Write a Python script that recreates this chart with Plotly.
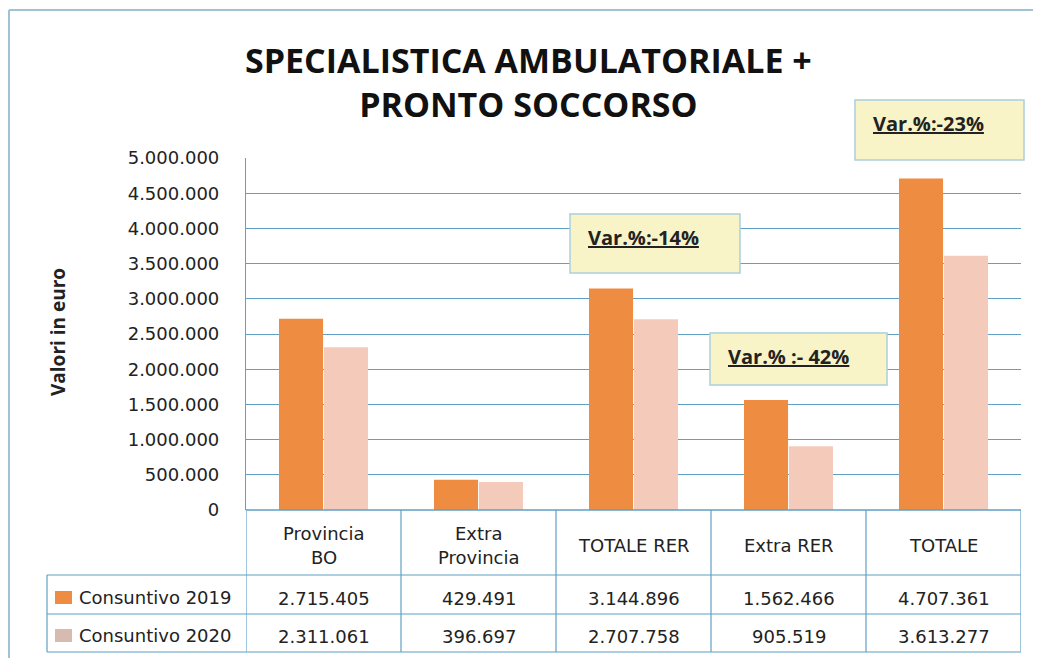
import plotly.graph_objects as go

# data
categories = ["Provincia BO", "Extra Provincia", "TOTALE RER", "Extra RER", "TOTALE"]
header_labels = [["Provincia", "BO"], ["Extra", "Provincia"], ["TOTALE RER"], ["Extra RER"], ["TOTALE"]]
series_names = ["Consuntivo 2019", "Consuntivo 2020"]
cons_2019 = [2715405, 429491, 3144896, 1562466, 4707361]
cons_2020 = [2311061, 396697, 2707758, 905519, 3613277]
var_labels = ["Var.%:-14%", "Var.% :- 42%", "Var.%:-23%"]
title_lines = ["SPECIALISTICA AMBULATORIALE +", "PRONTO SOCCORSO"]

# page has an 8px body margin, so the figure is 1025x650 placed at (8, 8)
OFF = 8
W, H = 1041 - 2 * OFF, 666 - 2 * OFF
ORANGE = "#ee8c42"
PINK = "#f4cbba"
BLUE = "#5fa0c4"
BOXBLUE = "#a9d0dd"


def px(x):
    return (x - OFF) / W


def py(y):
    return 1 - (y - OFF) / H


def fmt(v):
    return f"{v:,}".replace(",", ".")


fig = go.Figure()
fig.add_trace(go.Bar(x=categories, y=cons_2019, name=series_names[0],
                     marker=dict(color=ORANGE, line=dict(width=0))))
fig.add_trace(go.Bar(x=categories, y=cons_2020, name=series_names[1],
                     marker=dict(color=PINK, line=dict(width=0))))

shapes = []
ann = []

# outer frame (only top and left edges are inside the picture)
frame = dict(color="#9fc3d3", width=2)
shapes.append(dict(type="line", xref="paper", yref="paper", x0=px(9), x1=px(1045),
                   y0=py(10), y1=py(10), line=frame))
shapes.append(dict(type="line", xref="paper", yref="paper", x0=px(9), x1=px(9),
                   y0=py(10), y1=py(670), line=frame))

# table grid
tab_font = dict(family="DejaVu Sans", size=18, color="#222")
row_lines = [575, 614, 652]
shapes.append(dict(type="line", xref="x", yref="paper", x0=-0.5, x1=4.5,
                   y0=py(510), y1=py(510), line=dict(color=BLUE, width=1.5)))
for yy in row_lines:
    shapes.append(dict(type="line", xref="paper", yref="paper", x0=px(47), x1=px(1021),
                       y0=py(yy), y1=py(yy), line=dict(color=BLUE, width=1.2)))
shapes.append(dict(type="line", xref="paper", yref="paper", x0=px(47), x1=px(47),
                   y0=py(575), y1=py(652), line=dict(color=BLUE, width=1.2)))
for i in range(len(categories) + 1):
    shapes.append(dict(type="line", xref="x", yref="paper", x0=i - 0.5, x1=i - 0.5,
                       y0=py(652), y1=py(510), line=dict(color=BLUE, width=1.2)))

for i, lines in enumerate(header_labels):
    ys = [545] if len(lines) == 1 else [533, 557]
    for lab, yy in zip(lines, ys):
        ann.append(dict(x=categories[i], xref="x", y=py(yy), yref="paper", text=lab,
                        xanchor="center", yanchor="middle", showarrow=False, font=tab_font))
    ann.append(dict(x=categories[i], xref="x", y=py(598), yref="paper", text=fmt(cons_2019[i]),
                    xanchor="center", yanchor="middle", showarrow=False, font=tab_font))
    ann.append(dict(x=categories[i], xref="x", y=py(636), yref="paper", text=fmt(cons_2020[i]),
                    xanchor="center", yanchor="middle", showarrow=False, font=tab_font))

# legend column
for yy, name, col in [(597, series_names[0], ORANGE), (635, series_names[1], "#d9bab0")]:
    shapes.append(dict(type="rect", xref="paper", yref="paper", x0=px(55), x1=px(72),
                       y0=py(yy + 7), y1=py(yy - 6), fillcolor=col, line=dict(width=0)))
    ann.append(dict(x=px(77), xref="paper", y=py(yy), yref="paper", text=name,
                    xanchor="left", yanchor="middle", showarrow=False, font=tab_font))

# variation boxes
boxes = [(570, 214, 740, 273), (710, 333, 887, 385), (855, 100, 1024, 160)]
for (x0, y0, x1, y1), lab in zip(boxes, var_labels):
    shapes.append(dict(type="rect", xref="paper", yref="paper", x0=px(x0), x1=px(x1),
                       y0=py(y1), y1=py(y0), fillcolor="#f8f4c8",
                       line=dict(color=BOXBLUE, width=1.5), layer="above"))
    ann.append(dict(x=px(x0 + 16), xref="paper", y=py(y0 + 23), yref="paper",
                    xanchor="left", yanchor="middle", text="<b><u>" + lab + "</u></b>",
                    showarrow=False,
                    font=dict(family="Open Sans", size=20, color="#222")))

# title
ann.append(dict(x=px(528), xref="paper", y=py(82), yref="paper",
                text="<br>".join("<b>" + t + "</b>" for t in title_lines),
                xanchor="center", yanchor="middle", showarrow=False,
                font=dict(family="Open Sans", size=34, color="#111")))

# y axis title
ann.append(dict(x=px(58), xref="paper", y=py(332), yref="paper", text="<b>Valori in euro</b>",
                textangle=-90, xanchor="center", yanchor="middle", showarrow=False,
                font=dict(family="Open Sans", size=19, color="#222")))

fig.update_layout(
    width=W, height=H,
    margin=dict(l=0, r=0, t=0, b=0),
    paper_bgcolor="white", plot_bgcolor="white",
    barmode="group", bargap=0.42, bargroupgap=0.02,
    showlegend=False,
    separators=",.",
    shapes=shapes, annotations=ann,
    xaxis=dict(domain=[px(246), px(1021)], range=[-0.5, 4.5], showticklabels=False,
               showgrid=False, zeroline=False, showline=False, fixedrange=True),
    yaxis=dict(domain=[py(510), py(158)], range=[0, 5000000], dtick=500000,
               tickformat=",d", showgrid=True, gridcolor=BLUE, gridwidth=1.2,
               zeroline=False, showline=True, linecolor=BLUE, linewidth=1.2,
               ticks="", ticklabelstandoff=22, tickfont=tab_font, automargin=False),
)

fig.write_html("out.html")
